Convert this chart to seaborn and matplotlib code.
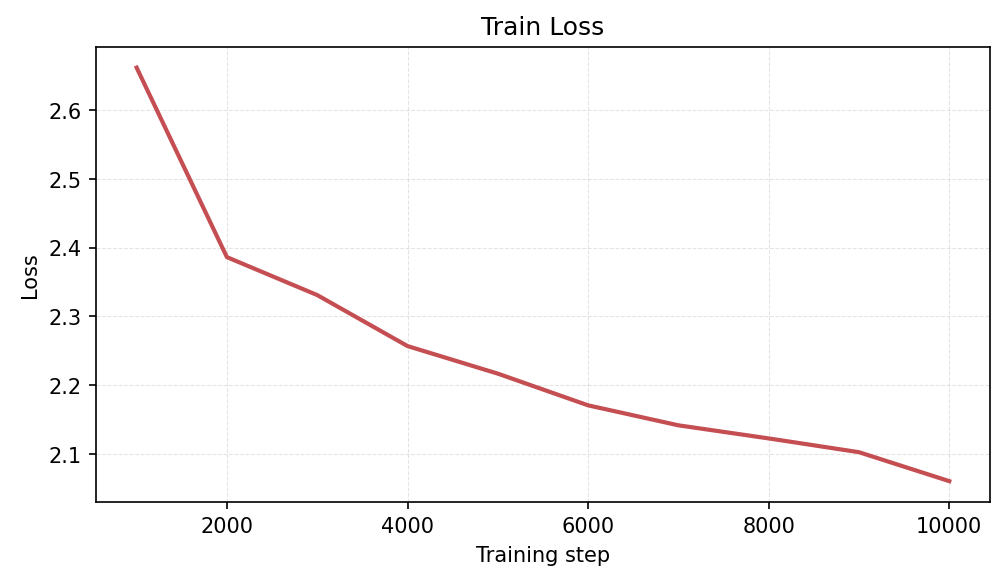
import matplotlib
matplotlib.use("Agg")
import matplotlib.pyplot as plt
import seaborn as sns
import pandas as pd

steps = [1000, 2000, 3000, 4000, 5000, 6000, 7000, 8000, 9000, 10000]
loss = [2.661, 2.386, 2.331, 2.257, 2.217, 2.171, 2.142, 2.123, 2.103, 2.061]

df = pd.DataFrame({"step": steps, "loss": loss})

plt.rcParams['font.family'] = ['DejaVu Sans']

fig, ax = plt.subplots(figsize=(6.7, 3.893), dpi=150)
sns.lineplot(data=df, x="step", y="loss", ax=ax, color="#c44e52", linewidth=2)
ax.set_title("Train Loss", fontsize=12)
ax.set_xlabel("Training step")
ax.set_ylabel("Loss")
ax.grid(True, linestyle="--", linewidth=0.5, alpha=0.35, color="#b0b0b0")

fig.subplots_adjust(left=0.0955, right=0.985, top=0.918, bottom=0.139)
plt.savefig("out.png", dpi=150)
plt.close()
